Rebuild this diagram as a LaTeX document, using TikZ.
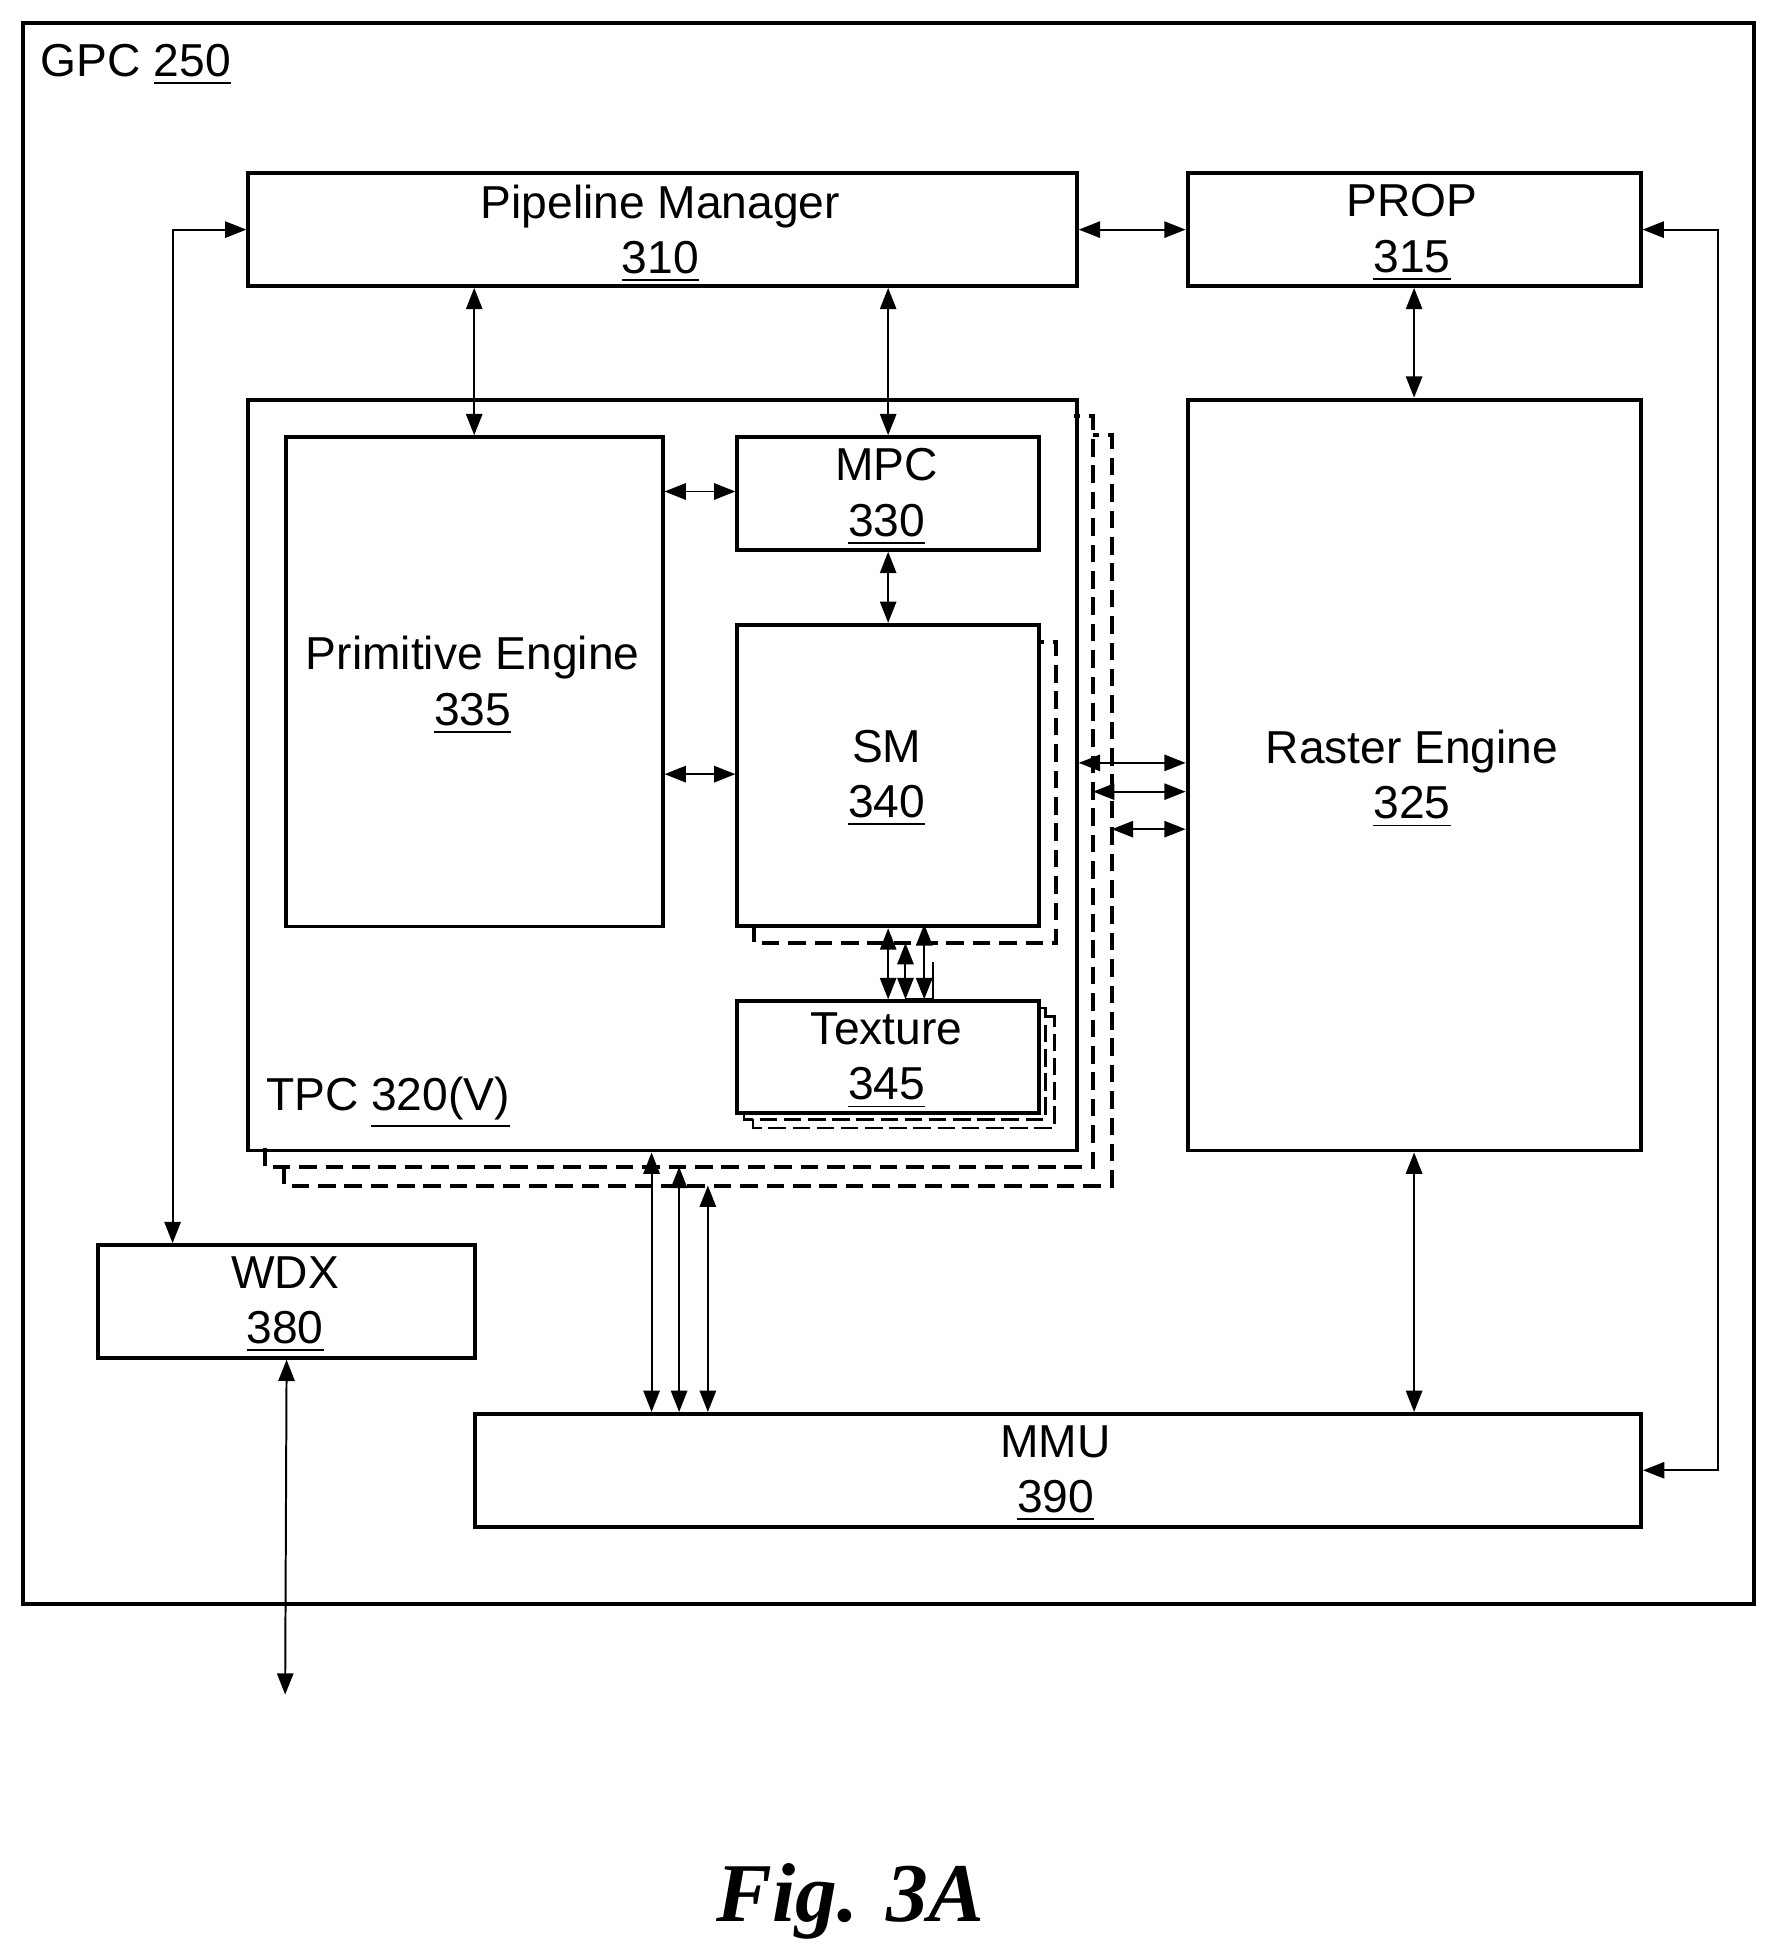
\documentclass[tikz,border=0pt]{standalone}
\usepackage{fontspec}
\setmainfont{Liberation Sans}
\newfontfamily\figfont{Liberation Serif}
\usetikzlibrary{arrows.meta,positioning}
\tikzset{
  box/.style={draw, line width=0.9pt, anchor=north west, inner sep=0pt},
  txt/.style={anchor=north, align=center, inner sep=0pt, font=\fontsize{10.5}{12.6}\selectfont},
  link/.style={line width=0.45pt, {Triangle[length=1.7mm,width=1.3mm]}-{Triangle[length=1.7mm,width=1.3mm]}},
  copy/.style={line width=0.9pt, dash pattern=on 4pt off 2pt},
}
\begin{document}
\begin{tikzpicture}[x=0.01cm,y=-0.01cm]
\useasboundingbox (0,0) rectangle (1414,1564);
% outer GPC
\node[box, minimum width=13.83cm, minimum height=12.63cm] (gpc) at (17,17) {};
\node[anchor=west, inner sep=0pt, font=\fontsize{10.5}{12.6}\selectfont] (gpclbl) at (32,52) {GPC \underline{250}};

% top row
\node[box, minimum width=6.62cm, minimum height=0.9cm] (pm) at (197,137) {};
\node[txt] (pmlbl) at (528,147) {Pipeline Manager\\\underline{310}};
\node[box, minimum width=3.62cm, minimum height=0.9cm] (prop) at (948,137) {};
\node[txt] (proplbl) at (1129,147) {PROP\\\underline{315}};

% TPC stack
\draw[copy] (212,918) -- (212,933) -- (874,933) -- (874,333) -- (859,333);
\draw[copy] (227,933) -- (227,948) -- (889,948) -- (889,348) -- (874,348);
\coordinate (tpcb) at (874,933);
\coordinate (tpcc) at (889,948);
\node[box, minimum width=6.62cm, minimum height=6cm] (tpc) at (197,318) {};
\node[anchor=west, inner sep=0pt, font=\fontsize{10.5}{12.6}\selectfont] (tpclbl) at (212,882) {TPC \underline{320(V)}};

\node[box, minimum width=3.01cm, minimum height=3.91cm] (pe) at (227,348) {};
\node[txt] (pelbl) at (378,508) {Primitive Engine\\\underline{335}};
\node[box, minimum width=2.41cm, minimum height=0.9cm] (mpc) at (588,348) {};
\node[txt] (mpclbl) at (709,358) {MPC\\\underline{330}};

\draw[copy] (603,739) -- (603,754) -- (844,754) -- (844,513) -- (829,513);
\node[box, fill=white, minimum width=2.41cm, minimum height=2.41cm] (sm) at (588,498) {};
\node[txt] (smlbl) at (709,583) {SM\\\underline{340}};

\draw[line width=0.6pt, dash pattern=on 4pt off 1.5pt] (602,895) -- (602,902) -- (843,902) -- (843,813) -- (836,813);
\draw[line width=0.6pt, dash pattern=on 4pt off 1.5pt] (595,888) -- (595,895) -- (836,895) -- (836,806) -- (829,806);
\node[box, fill=white, minimum width=2.41cm, minimum height=0.89cm] (tex) at (588,799) {};
\node[txt] (texlbl) at (709,809) {Texture\\\underline{345}};

% right column
\node[box, minimum width=3.62cm, minimum height=6cm] (re) at (948,318) {};
\node[txt] (relbl) at (1129,583) {Raster Engine\\\underline{325}};

% bottom
\node[box, minimum width=3.01cm, minimum height=0.9cm] (wdx) at (77,994) {};
\node[txt] (wdxlbl) at (228,1004) {WDX\\\underline{380}};
\node[box, minimum width=9.32cm, minimum height=0.9cm] (mmu) at (378,1129) {};
\node[txt] (mmulbl) at (844,1139) {MMU\\\underline{390}};
\coordinate (ext) at (228,1355);

% connectors
\draw[link] (wdx.north west -| 138,0) |- (pm.west);
\draw[link] (pm.east) -- (prop.west);
\draw[link] (prop.east) -- ++(60,0) |- (mmu.east);
\draw[link] (pm.south -| pe.north) -- (pe.north);
\draw[link] (pm.south -| mpc.north) -- (mpc.north);
\draw[link] (pe.east |- 0,393) -- (mpc.west |- 0,393);
\draw[link] (mpc.south) -- (sm.north);
\draw[link] (pe.east |- 0,619) -- (sm.west |- 0,619);
\draw[link] (sm.south) -- (tex.north);
\draw[link] (724,754) -- (724,799);
\draw[link] (739,739) -- (739,799);
\draw[line width=0.45pt] (724,799) -- (746,799) (746,799) -- (746,769);
\draw[link] (tpc.east |- 0,610) -- (re.west |- 0,610);
\draw[link] (tpcb |- 0,633) -- (re.west |- 0,633);
\draw[link] (tpcc |- 0,663) -- (re.west |- 0,663);
\draw[link] (tpc.south -| 521,0) -- (mmu.north -| 521,0);
\draw[link] (tpcb -| 543,0) -- (mmu.north -| 543,0);
\draw[link] (tpcc -| 566,0) -- (mmu.north -| 566,0);
\draw[link] (prop.south) -- (re.north);
\draw[link] (re.south) -- (mmu.north -| re.south);
\draw[link] (wdx.south) -- (ext);

\node[font=\fontsize{19}{22}\figfont\bfseries\itshape] (fig) at (680,1520) {Fig. 3A};
\end{tikzpicture}
\end{document}
